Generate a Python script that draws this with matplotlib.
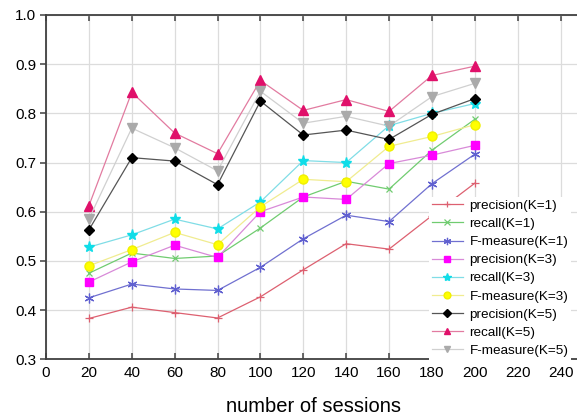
import matplotlib
matplotlib.use("Agg")
import matplotlib.pyplot as plt

plt.rcParams['font.family'] = ['Liberation Sans', 'DejaVu Sans']

sessions = [20, 40, 60, 80, 100, 120, 140, 160, 180, 200]

precision_k1 = [0.383, 0.406, 0.395, 0.384, 0.427, 0.482, 0.535, 0.524, 0.592, 0.658]
recall_k1    = [0.475, 0.516, 0.505, 0.510, 0.567, 0.630, 0.662, 0.646, 0.725, 0.788]
fmeasure_k1  = [0.425, 0.453, 0.443, 0.440, 0.487, 0.545, 0.593, 0.580, 0.657, 0.717]
precision_k3 = [0.457, 0.498, 0.532, 0.507, 0.600, 0.630, 0.625, 0.698, 0.715, 0.735]
recall_k3    = [0.528, 0.553, 0.585, 0.565, 0.620, 0.704, 0.700, 0.775, 0.800, 0.820]
fmeasure_k3  = [0.490, 0.523, 0.558, 0.533, 0.610, 0.666, 0.661, 0.733, 0.753, 0.777]
precision_k5 = [0.563, 0.710, 0.703, 0.655, 0.825, 0.756, 0.766, 0.747, 0.798, 0.830]
recall_k5    = [0.612, 0.843, 0.760, 0.718, 0.867, 0.806, 0.828, 0.804, 0.877, 0.896]
fmeasure_k5  = [0.585, 0.770, 0.730, 0.683, 0.845, 0.780, 0.794, 0.774, 0.834, 0.861]

labels = ['precision(K=1)', 'recall(K=1)', 'F-measure(K=1)',
          'precision(K=3)', 'recall(K=3)', 'F-measure(K=3)',
          'precision(K=5)', 'recall(K=5)', 'F-measure(K=5)']
series = [precision_k1, recall_k1, fmeasure_k1,
          precision_k3, recall_k3, fmeasure_k3,
          precision_k5, recall_k5, fmeasure_k5]

xticks = list(range(0, 241, 20))
yticks = [0.3, 0.4, 0.5, 0.6, 0.7, 0.8, 0.9, 1.0]

styles = [
    dict(color='#dd6070', marker='+', mfc='#dd6070', mec='#dd6070', ms=6, mew=0.9),
    dict(color='#70cc70', marker='x', mfc='#70cc70', mec='#70cc70', ms=5, mew=0.9),
    dict(color='#7070d0', marker=(6, 2, 0), mfc='#6060d0', mec='#6060d0', ms=7, mew=0.9),
    dict(color='#d88ad8', marker='s', mfc='#ff00ff', mec='#ff00ff', ms=5.5),
    dict(color='#80dde6', marker='*', mfc='#10dde8', mec='#10dde8', ms=8),
    dict(color='#f0ec90', marker='o', mfc='#ffff00', mec='#f0f000', ms=6.5),
    dict(color='#555555', marker='D', mfc='black', mec='black', ms=5.5),
    dict(color='#e27ba0', marker='^', mfc='#e0106a', mec='#e0106a', ms=6.5),
    dict(color='#d0d0d0', marker='v', mfc='#aaaaaa', mec='#aaaaaa', ms=6.5),
]

W, H = 577, 419
fig = plt.figure(figsize=(W / 100, H / 100), dpi=100)
left, right, top, bottom = 46, 582, 15, 359.3
ax = fig.add_axes([left / W, (H - bottom) / H, (right - left) / W, (bottom - top) / H])

for vals, lab, st in zip(series, labels, styles):
    ax.plot(sessions, vals, lw=0.9, label=lab, **st)

ax.set_xlim(0, 250)
ax.set_ylim(0.3, 1.0)
ax.set_xticks(xticks)
ax.set_yticks(yticks)
ax.set_yticklabels([f'{v:.1f}' for v in yticks])
ax.grid(True, color='#dcdcdc', lw=0.9)
ax.set_axisbelow(True)

for s in ax.spines.values():
    s.set_color('#404040')
    s.set_linewidth(1.3)

ax.tick_params(axis='x', direction='in', top=True, bottom=True, length=4,
               width=1.1, color='#404040', labelsize=11, pad=5)
ax.tick_params(axis='y', direction='out', left=True, right=False, length=4,
               width=1.1, color='#404040', labelsize=11, pad=3)

ax.set_xlabel('number of sessions', fontsize=14.5, labelpad=12)

leg = ax.legend(loc='upper left', bbox_to_anchor=(429 / W, 1 - 197 / H),
                bbox_transform=fig.transFigure, fontsize=9.7, frameon=True,
                framealpha=1, edgecolor='white', facecolor='white',
                fancybox=False, handlelength=2.3, handletextpad=0.5,
                labelspacing=0.42, borderpad=0.2, borderaxespad=0,
                markerscale=0.75)
leg.get_frame().set_linewidth(0)

fig.savefig('out.png', dpi=100)
